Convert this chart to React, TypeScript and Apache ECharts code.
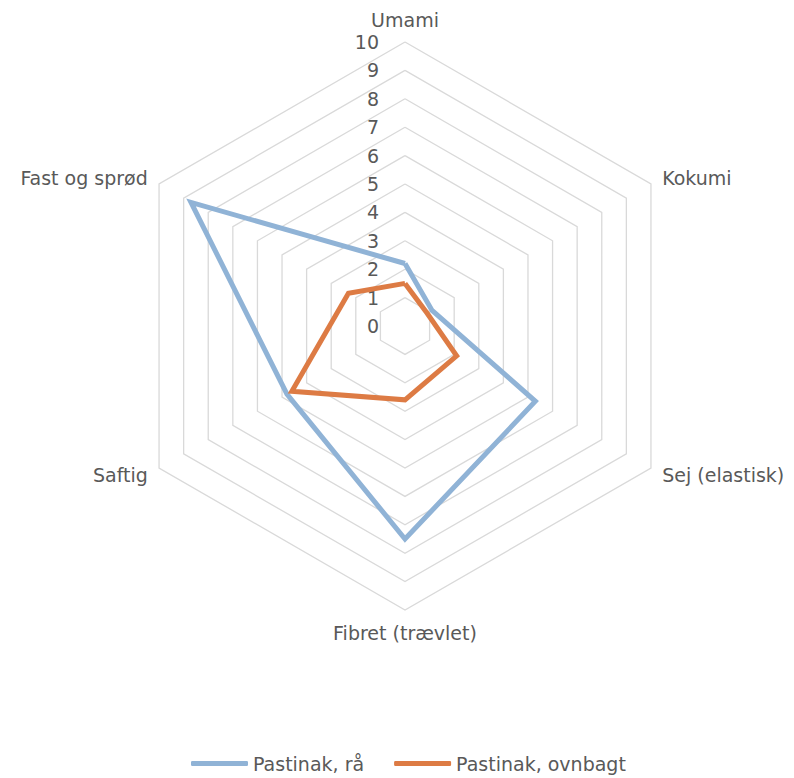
import React, { useEffect, useRef } from "react";
import * as echarts from "echarts";

// Clockwise order starting at the top
const categories = ["Umami", "Kokumi", "Sej (elastisk)", "Fibret (trævlet)", "Saftig", "Fast og sprød"];
const seriesNames = ["Pastinak, rå", "Pastinak, ovnbagt"];
const rawValues = [2.2, 1.1, 5.3, 7.5, 4.8, 8.7];
const bakedValues = [1.5, 0.9, 2.1, 2.6, 4.6, 2.3];
const axisMax = 10;
const colors = ["#90b3d6", "#dd7b44"];

// ECharts radar runs counter-clockwise: keep the first, reverse the rest
const toLibOrder = <T,>(arr: T[]): T[] => [arr[0], ...arr.slice(1).reverse()];

export default function App() {
  const ref = useRef<HTMLDivElement>(null);
  useEffect(() => {
    if (!ref.current) return;
    const chart = echarts.init(ref.current, undefined, { renderer: "svg" });
    const font = "'DejaVu Sans', sans-serif";
    const indicator = toLibOrder(categories).map((name, i) => ({
      name,
      min: 0,
      max: axisMax,
      axisLabel:
        i === 0
          ? { show: true, color: "#595959", fontSize: 19, fontFamily: font, margin: 26, showMinLabel: true }
          : { show: false },
    }));
    chart.setOption({
      animation: false,
      legend: {
        bottom: 0,
        left: 186,
        icon: "roundRect",
        itemWidth: 57,
        itemHeight: 5,
        itemGap: 30,
        textStyle: { color: "#595959", fontSize: 19, fontFamily: font },
        data: seriesNames,
      },
      radar: {
        center: [405, 326],
        radius: 284,
        shape: "polygon",
        splitNumber: 10,
        nameGap: 13,
        axisName: { color: "#595959", fontSize: 19, fontFamily: font },
        axisLine: { show: false },
        axisTick: { show: false },
        axisLabel: { show: false },
        splitArea: { show: false },
        splitLine: { lineStyle: { color: "#d9d9d9", width: 1.3 } },
        indicator,
      },
      series: [
        {
          type: "radar",
          symbol: "none",
          data: [
            {
              name: seriesNames[0],
              value: toLibOrder(rawValues),
              lineStyle: { color: colors[0], width: 5, join: "miter" },
              itemStyle: { color: colors[0] },
            },
            {
              name: seriesNames[1],
              value: toLibOrder(bakedValues),
              lineStyle: { color: colors[1], width: 5, join: "miter" },
              itemStyle: { color: colors[1] },
            },
          ],
        },
      ],
    });
    return () => chart.dispose();
  }, []);
  return (
    <div
      ref={ref}
      style={{ position: "fixed", left: 0, top: 0, width: 794, height: 778, background: "#fff" }}
    />
  );
}
